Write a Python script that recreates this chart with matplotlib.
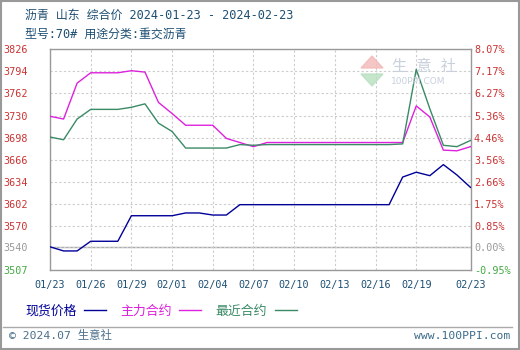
import pandas as pd
import matplotlib.pyplot as plt
import matplotlib.dates as mdates
from matplotlib.lines import Line2D
from matplotlib.patches import Rectangle, Polygon

# daily values 2024-01-23 .. 2024-02-23
dates = pd.date_range("2024-01-23", "2024-02-23", freq="D")
spot = [3540, 3534, 3534, 3548, 3548, 3548, 3585, 3585, 3585, 3585, 3589,
        3589, 3586, 3586, 3601, 3601, 3601, 3601, 3601, 3601, 3601, 3601,
        3601, 3601, 3601, 3601, 3641, 3648, 3643, 3659, 3644, 3626]
main_contract = [3729, 3725, 3777, 3792, 3792, 3792, 3795, 3793, 3749, 3733,
                 3716, 3716, 3716, 3697, 3691, 3685, 3691, 3691, 3691, 3691,
                 3691, 3691, 3691, 3691, 3691, 3691, 3691, 3744, 3728, 3680,
                 3679, 3685]
near_contract = [3699, 3695, 3725, 3739, 3739, 3739, 3742, 3747, 3719, 3707,
                 3683, 3683, 3683, 3683, 3688, 3687, 3688, 3688, 3688, 3688,
                 3688, 3688, 3688, 3688, 3688, 3688, 3689, 3797, 3740, 3687,
                 3685, 3694]

xtick_labels = ["01/23", "01/26", "01/29", "02/01", "02/04", "02/07",
                "02/10", "02/13", "02/16", "02/19", "02/23"]
ytick_values = [3507, 3540, 3570, 3602, 3634, 3666, 3698, 3730, 3762, 3794, 3826]
ytick_left = ["3507", "3540", "3570", "3602", "3634", "3666", "3698", "3730",
              "3762", "3794", "3826"]
ytick_right = ["-0.95%", "0.00%", "0.85%", "1.75%", "2.66%", "3.56%", "4.46%",
               "5.36%", "6.27%", "7.17%", "8.07%"]
base_price = 3540

FONT = ["DejaVu Sans Mono", "Noto Sans CJK SC"]
RED = "#cc3333"
GRAY = "#999999"
GREEN_T = "#44aa44"
C_SPOT = "#000099"
C_MAIN = "#dd22dd"
C_NEAR = "#3a8a66"

W, H = 520, 350
fig = plt.figure(figsize=(W / 100, H / 100), dpi=100)


def fx(px):
    return px / W


def fy(py):
    return 1 - py / H


ax = fig.add_axes([fx(50), fy(270), fx(420.5), (270 - 49.3) / H])
ax.plot(dates, spot, color=C_SPOT, lw=1.0, zorder=3)
ax.plot(dates, main_contract, color=C_MAIN, lw=1.0, zorder=3)
ax.plot(dates, near_contract, color=C_NEAR, lw=1.0, zorder=3)

ax.set_xlim(dates[0], dates[-1])
ax.set_ylim(3506.4, 3826)

tick_dates = [pd.Timestamp("2024/" + s) for s in xtick_labels]
ax.set_xticks(tick_dates)
ax.set_xticklabels(xtick_labels, family=FONT, fontsize=7.3, color="#1d4f73")
ax.set_yticks(ytick_values)
ax.set_yticklabels(ytick_left, family=FONT, fontsize=7.3)
ax.tick_params(axis="both", length=0)
ax.tick_params(axis="x", pad=7)
ax.tick_params(axis="y", pad=16)
for i, lab in enumerate(ax.get_yticklabels()):
    lab.set_color(GREEN_T if i == 0 else GRAY if i == 1 else RED)

ax.grid(True, linestyle=(0, (2, 2)), color="#cccccc", lw=0.8)
ax.axhline(base_price, color="#aaaaaa", lw=1.0, zorder=1)
for s in ax.spines.values():
    s.set_color("#999999")
    s.set_linewidth(1.0)

ax2 = ax.twinx()
ax2.set_ylim(ax.get_ylim())
ax2.set_yticks(ytick_values)
ax2.set_yticklabels(ytick_right, family=FONT, fontsize=7.3)
ax2.tick_params(axis="y", length=0, pad=2.5)
for i, lab in enumerate(ax2.get_yticklabels()):
    lab.set_color(GREEN_T if i == 0 else GRAY if i == 1 else RED)
for s in ax2.spines.values():
    s.set_visible(False)

# watermark
fig.add_artist(Polygon([(fx(372), fy(56)), (fx(383), fy(68)), (fx(361), fy(68))],
                       closed=True, color="#f2b8b8", alpha=0.8))
fig.add_artist(Polygon([(fx(361), fy(74)), (fx(383), fy(74)), (fx(372), fy(86))],
                       closed=True, color="#b8e0c0", alpha=0.8))
fig.text(fx(392), fy(67), "生 意 社", family=FONT, fontsize=11, color="#c8d0dc",
         va="center", ha="left")
fig.text(fx(391), fy(81), "100PPI.COM", family=["DejaVu Sans"], fontsize=6.5,
         color="#c8d0dc", va="center", ha="left")

# titles
fig.text(fx(25), fy(15), "沥青 山东 综合价 2024-01-23 - 2024-02-23", family=FONT,
         fontsize=8.6, color="#1d4f73", va="center", ha="left")
fig.text(fx(25), fy(34), "型号:70# 用途分类:重交沥青", family=FONT,
         fontsize=8.6, color="#1d4f73", va="center", ha="left")

# legend
for label, col, x0, lx0 in [("现货价格", C_SPOT, 25, 84),
                            ("主力合约", C_MAIN, 120, 179),
                            ("最近合约", C_NEAR, 215, 275)]:
    fig.text(fx(x0), fy(311), label, family=FONT, fontsize=9.3, color=col,
             va="center", ha="left")
    fig.add_artist(Line2D([fx(lx0), fx(lx0 + 22)], [fy(310), fy(310)],
                          color=col, lw=1.0))

# footer
fig.add_artist(Line2D([fx(3), fx(512)], [fy(326.5), fy(326.5)], color="#aaaaaa", lw=1.0))
fig.text(fx(9), fy(336), "© 2024.07 生意社", family=FONT, fontsize=8.2,
         color="#4a6f8a", va="center", ha="left")
fig.text(fx(510), fy(336), "www.100PPI.com", family=FONT, fontsize=8.2,
         color="#3a6a8a", va="center", ha="right")
fig.add_artist(Rectangle((0.001, 0.002), 0.997, 0.996, fill=False,
                         edgecolor="#999999", lw=1.5))

fig.savefig("out.png", dpi=100)
